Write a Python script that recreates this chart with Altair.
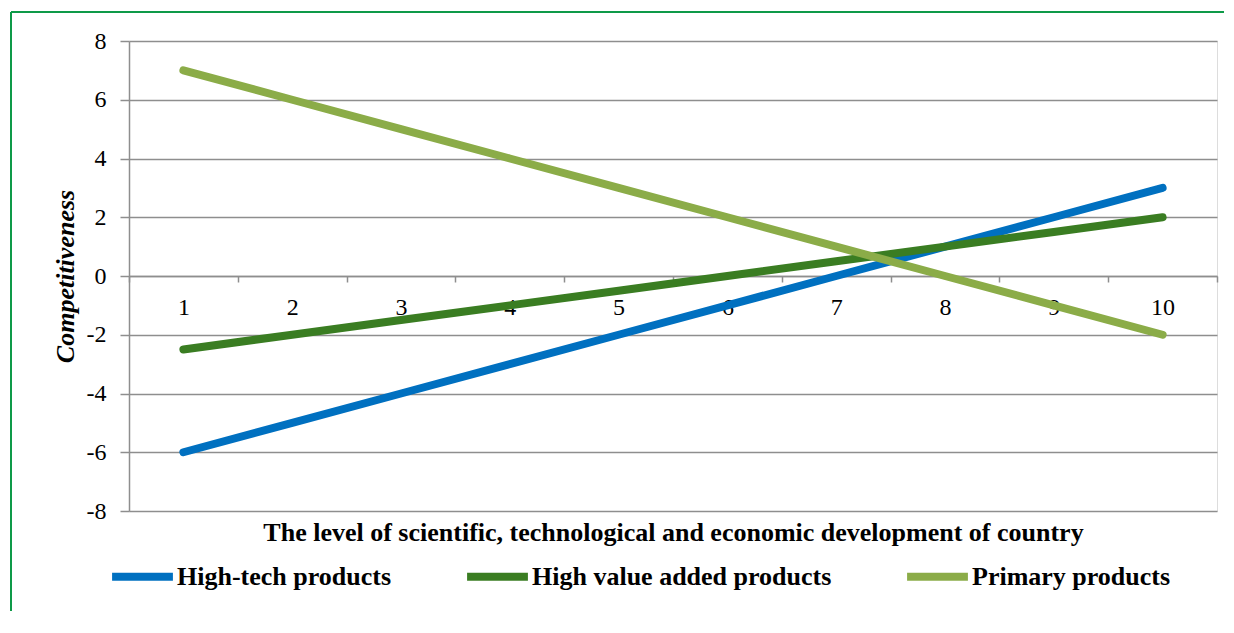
import altair as alt
import pandas as pd

levels = [1, 2, 3, 4, 5, 6, 7, 8, 9, 10]
series_names = ["High-tech products", "High value added products", "Primary products"]
high_tech = [-6, -5, -4, -3, -2, -1, 0, 1, 2, 3]
high_value = [-2.5, -2, -1.5, -1, -0.5, 0, 0.5, 1, 1.5, 2]
primary = [7, 6, 5, 4, 3, 2, 1, 0, -1, -2]
y_ticks = [-8, -6, -4, -2, 0, 2, 4, 6, 8]
colors = ["#0070C0", "#3A7D22", "#8BAC48"]

rows = []
for name, vals in zip(series_names, [high_tech, high_value, primary]):
    for lv, v in zip(levels, vals):
        rows.append({"level": lv, "value": v, "series": name})
df = pd.DataFrame(rows)

FONT = "Liberation Serif"
GRID = "#8E8E8E"

lines = alt.Chart(df).mark_line(strokeWidth=8, strokeCap="round", strokeJoin="round").encode(
    x=alt.X(
        "level:O",
        bandPosition=0.5,
        scale=alt.Scale(type="band", paddingInner=0, paddingOuter=0),
        axis=alt.Axis(
            title="The level of scientific, technological and economic development of country",
            titleFont=FONT, titleFontSize=26, titleFontWeight="bold", titleColor="black",
            titleY=256, titleBaseline="middle",
            labelFont=FONT, labelFontSize=24, labelColor="black", labelAngle=0, labelPadding=13,
            tickBand="extent", tickSize=6, tickColor=GRID, tickWidth=1.5,
            domainColor=GRID, domainWidth=1.5, grid=False, offset=-235,
        ),
    ),
    y=alt.Y(
        "value:Q",
        scale=alt.Scale(domain=[-8, 8], nice=False, zero=False),
        axis=alt.Axis(
            values=y_ticks, title="Competitiveness", labelExpr="'' + datum.value",
            titleFont=FONT, titleFontSize=26, titleFontWeight="bold", titleFontStyle="italic",
            titleColor="black", titlePadding=8,
            labelFont=FONT, labelFontSize=24, labelColor="black", labelPadding=14,
            tickSize=9, tickColor=GRID, tickWidth=1.5,
            domainColor=GRID, domainWidth=1.5,
            grid=True, gridColor=GRID, gridWidth=1.5,
        ),
    ),
    color=alt.Color(
        "series:N",
        scale=alt.Scale(domain=series_names, range=colors),
        sort=series_names,
        legend=alt.Legend(
            title=None, orient="none", direction="horizontal", legendX=-21, legendY=501,
            symbolType="stroke", symbolSize=3700, symbolStrokeWidth=8,
            labelFont=FONT, labelFontSize=26, labelFontWeight="bold", labelColor="black",
            labelOffset=0, labelLimit=600, columnPadding=59,
        ),
    ),
    order=alt.Order("level:Q"),
)

border_data = alt.Data(values=[{"k": 1}])
border_left = alt.Chart(border_data).mark_rule(color="#0E9A48", strokeWidth=2).encode(
    x=alt.value(-118), y=alt.value(-29), y2=alt.value(570)
)
border_top = alt.Chart(border_data).mark_rule(color="#0E9A48", strokeWidth=2).encode(
    x=alt.value(-118), x2=alt.value(1095), y=alt.value(-29)
)

chart = alt.layer(border_left, border_top, lines).properties(
    width=1088, height=470,
    padding={"left": 2, "top": 3, "right": 0, "bottom": 0},
).configure_view(stroke=None).configure(background="white")

chart.save("out.html", embed_options={"renderer": "svg", "actions": False})
